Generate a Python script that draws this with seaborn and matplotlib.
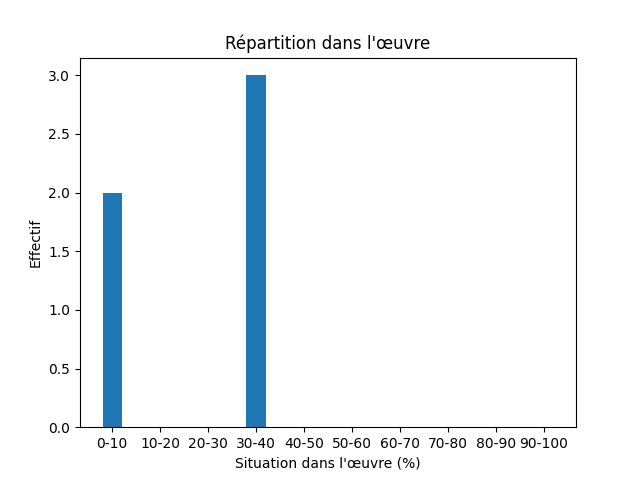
import matplotlib
matplotlib.use("Agg")
import matplotlib.pyplot as plt
import seaborn as sns
import pandas as pd

# tranches de position dans l'oeuvre
tranches = ["0-10", "10-20", "20-30", "30-40", "40-50",
            "50-60", "60-70", "70-80", "80-90", "90-100"]
effectifs = [2, 0, 0, 3, 0, 0, 0, 0, 0, 0]

df = pd.DataFrame({"tranche": tranches, "effectif": effectifs})

fig, ax = plt.subplots(figsize=(6.4, 4.8), dpi=100)
sns.barplot(data=df, x="tranche", y="effectif", order=tranches,
            color="#1f77b4", saturation=1, width=0.4, ax=ax)

ax.set_xlim(-0.67, 9.67)
ax.set_ylim(0, 3.15)
ax.set_title("Répartition dans l'œuvre")
ax.set_xlabel("Situation dans l'œuvre (%)")
ax.set_ylabel("Effectif")

plt.savefig("out.png")
plt.close()
